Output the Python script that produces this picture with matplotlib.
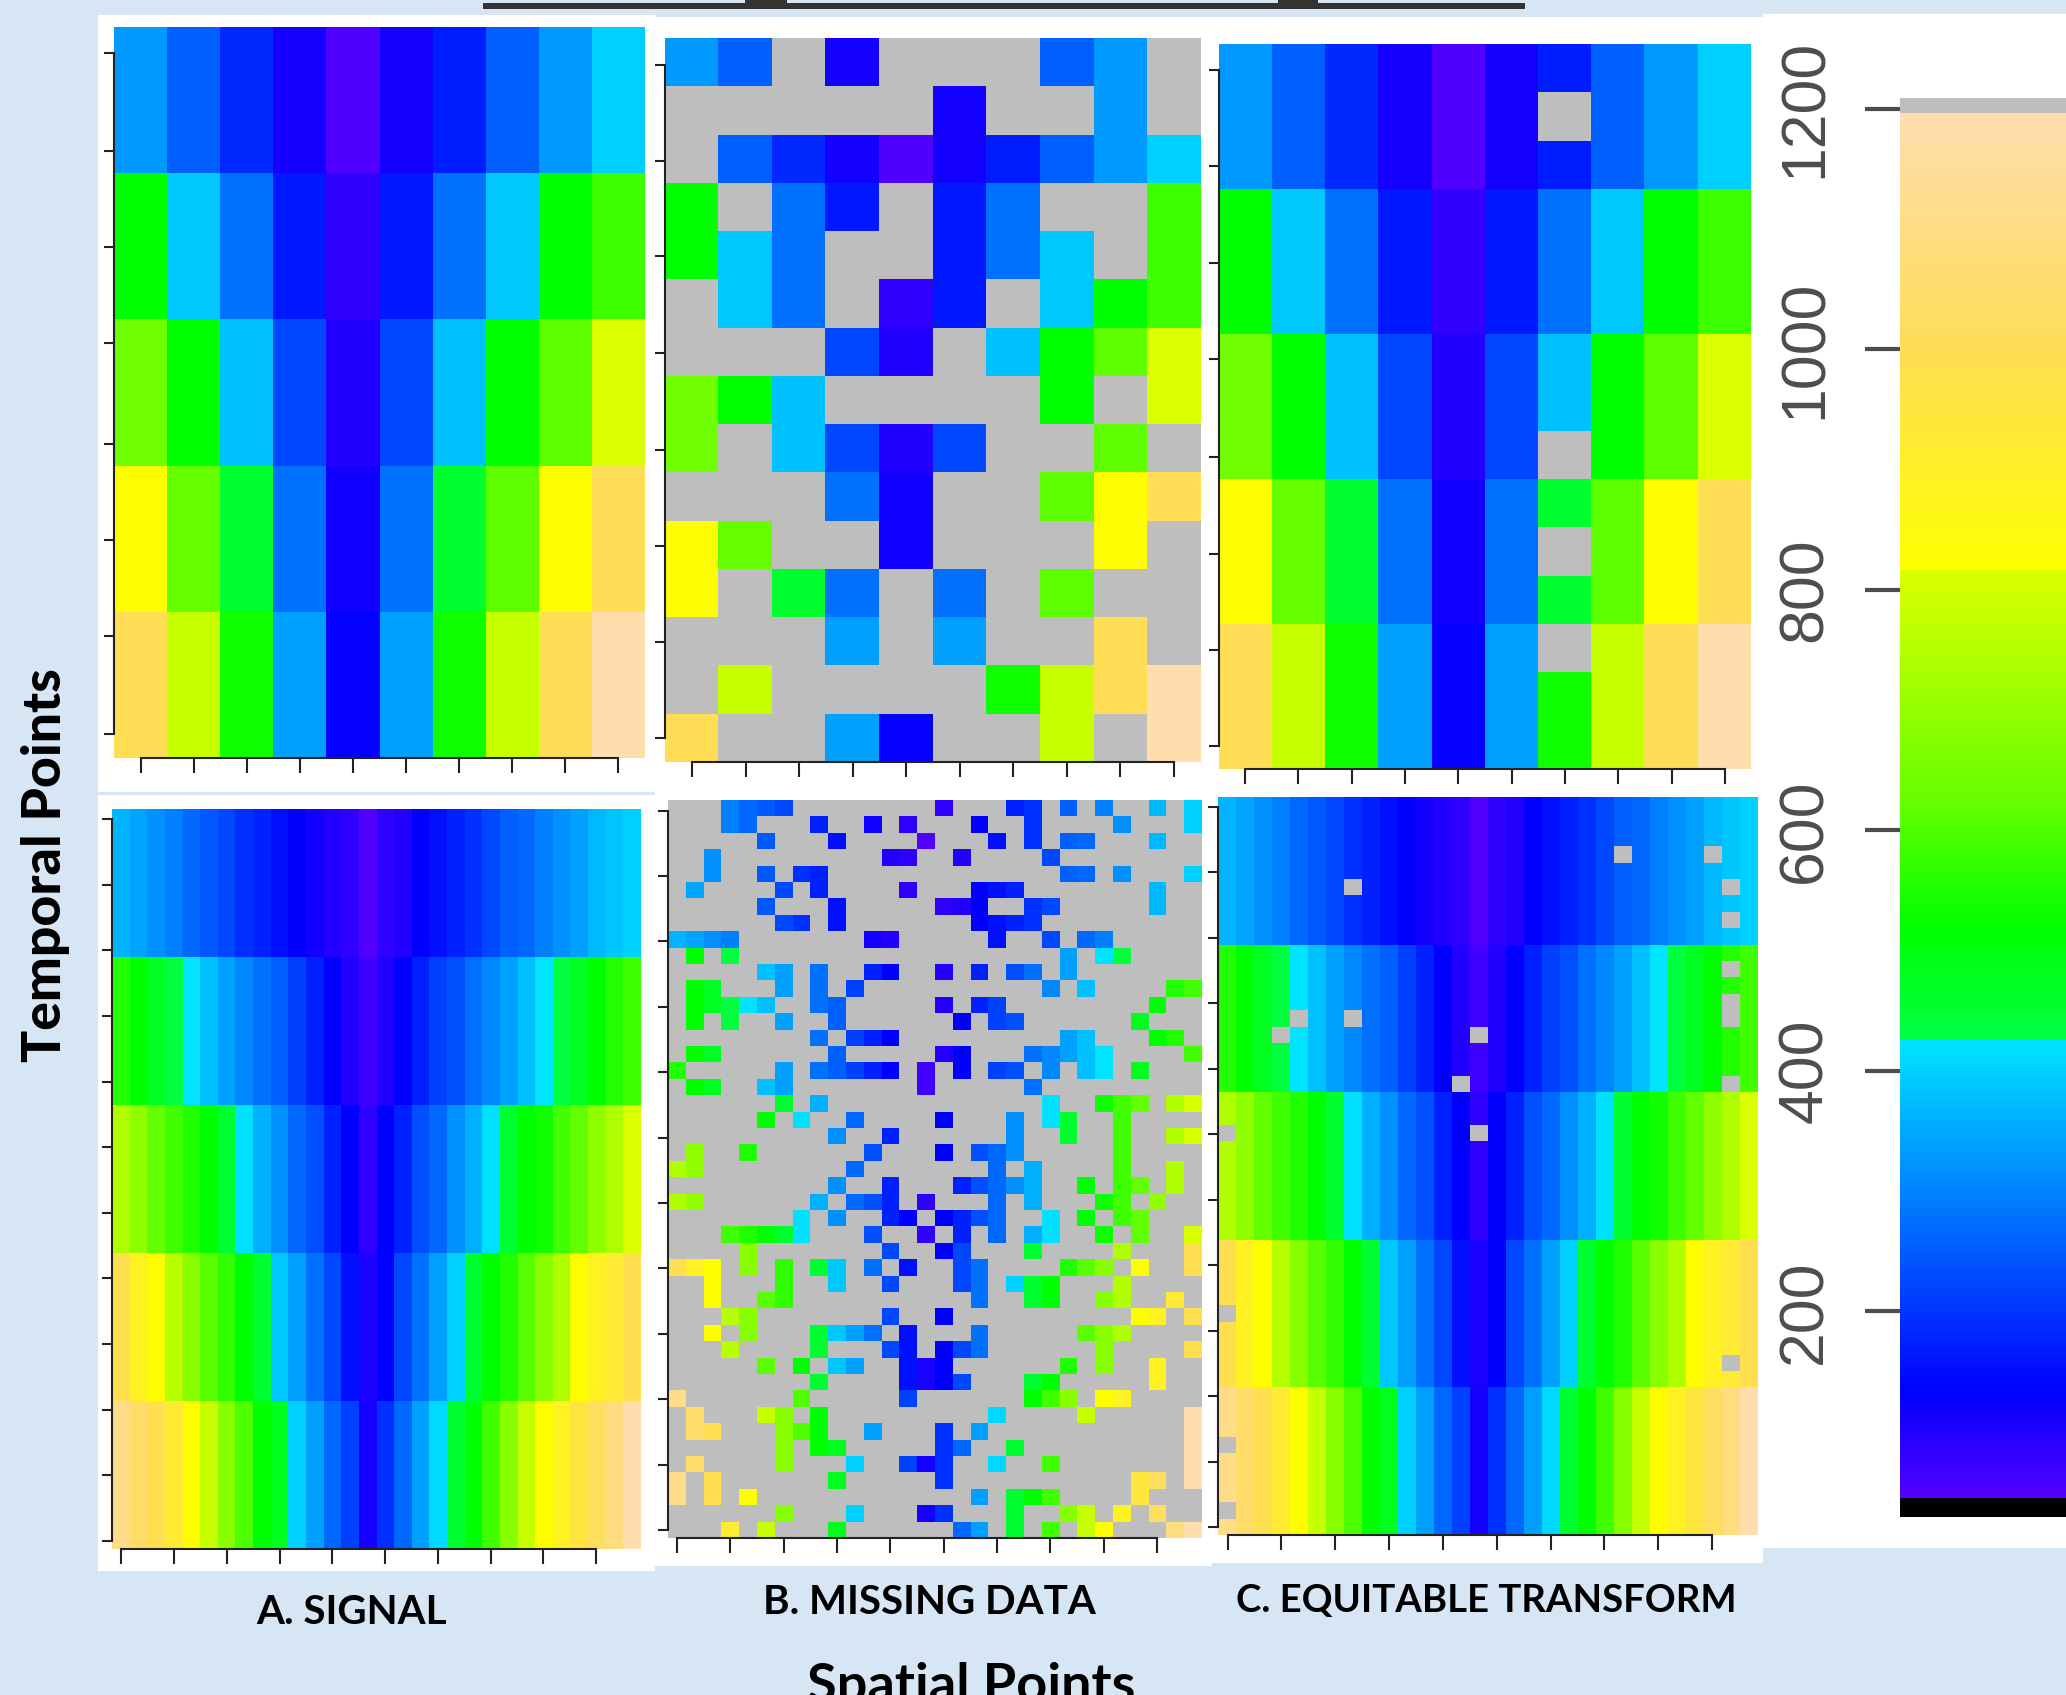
import numpy as np
import matplotlib
matplotlib.use("Agg")
import matplotlib.pyplot as plt
from matplotlib.colors import LinearSegmentedColormap, Normalize
from matplotlib.cm import ScalarMappable
from matplotlib.patches import Rectangle

W, H = 2066, 1695

TOP_SIGNAL = [
    [329, 256, 184, 112, 50, 112, 170, 256, 329, 400],
    [519, 389, 276, 164, 83, 164, 276, 389, 519, 581],
    [640, 519, 380, 225, 98, 225, 380, 519, 615, 810],
    [820, 625, 455, 276, 115, 276, 455, 615, 820, 1000],
    [1000, 780, 535, 338, 130, 338, 535, 780, 1000, 1190],
]
BOTTOM_SIGNAL = [
    [363,343,317,297,266,246,225,194,174,153,133,116,99,83,49,83,99,133,153,174,194,225,256,266,297,317,338,368,385,400],
    [555,519,475,435,425,379,338,307,276,256,215,174,133,99,66,99,133,174,215,235,276,307,338,379,425,435,475,519,555,585],
    [744,693,619,585,552,519,453,420,358,317,266,235,174,133,83,133,174,235,266,317,358,420,453,519,535,585,619,693,744,810],
    [990,890,820,755,680,612,570,519,453,389,338,276,225,153,107,133,225,276,338,400,453,519,552,612,680,744,820,890,930,990],
    [1110,1040,990,930,820,780,680,600,519,480,400,338,266,215,112,194,266,338,410,453,519,585,680,780,820,890,950,1020,1090,1190],
]
# observed (row, column lists) in the 15x10 missing-data panel
TOP_OBSERVED = [
    [0,1,3,7,8],[5,8],[1,2,3,4,5,6,7,8,9],[0,2,3,5,6,9],[0,1,2,5,6,7,9],
    [1,2,4,5,7,8,9],[3,4,6,7,8,9],[0,1,2,7,9],[0,2,3,4,5,8],[3,4,7,8,9],
    [0,1,4,8],[0,2,3,5,7],[3,5,8],[1,6,7,8,9],[0,3,4,7,9],
]
BOTTOM_OBSERVED = [
    [3,4,5,6,15,19,20,22,24,27,29],[3,4,8,11,13,17,20,25,29],[5,9,14,18,20,22,23,27],
    [2,12,13,16,21],[2,5,7,8,22,23,25,29],[1,6,8,13,17,18,19,27],
    [5,9,15,16,17,20,21,27],[6,7,9,17,18,19,20],[0,1,2,3,11,12,18,21,23,24],
    [1,3,22,24,25],[5,6,8,11,12,15,17,19,20,22],[1,2,6,8,10,21,23,28,29],
    [1,2,3,4,5,8,9,15,17,18,27],[1,3,6,9,16,18,19,26],[8,10,11,12,22,23,27,28],
    [1,2,9,15,16,20,21,22,23,24,29],[0,6,8,9,10,11,12,14,16,18,19,21,23,24,26],[1,2,5,6,14,20],
    [6,8,21,24,25,26,28,29],[5,7,10,15,19,21,22,25],[9,12,19,22,25,28,29],
    [1,4,11,15,17,18,19,25],[0,1,10,18,20,25,28],[9,12,16,17,18,19,20,23,25,26,28],
    [0,1,8,10,11,12,14,18,20,24,25,27],[7,9,12,13,15,16,17,18,21,23,25,26],
    [3,4,5,6,7,11,14,16,18,20,21,24,26,29],[4,12,15,16,20,25,29],
    [0,1,2,4,6,8,9,11,13,16,17,22,23,24,26,29],[2,6,9,12,16,17,19,20,21,25],
    [2,5,6,17,20,21,24,25,28],[3,4,12,15,26,27,29],[2,4,8,9,10,11,13,17,23,24,25],
    [3,8,12,13,15,16,17,24,29],[5,7,9,10,13,14,15,22,24,27],[8,13,14,15,16,20,21,27],
    [0,7,13,20,21,22,24,25],[1,5,6,8,18,23,29],[1,2,6,7,8,11,15,17,29],
    [6,8,9,15,16,19,29],[1,6,10,13,14,15,18,21,29],[0,2,9,15,26,27,29],
    [0,2,4,17,19,20,21,26],[6,10,14,15,19,22,23,25,27],[3,5,9,16,17,19,21,23,24,28,29],
]
# missing cells in the transformed panels
TOP_TRANSFORM_MISSING = [(1, 6), (8, 6), (10, 6), (12, 6)]
BOTTOM_TRANSFORM_MISSING = [
    (3,22),(3,27),(5,7),(5,28),(7,28),(10,28),(12,28),(13,28),(13,4),(13,7),
    (14,3),(14,14),(17,13),(17,28),(20,0),(20,14),(31,0),(34,28),(39,0),(43,0),
]
COLORBAR_TICKS = [200, 400, 600, 800, 1000, 1200]
PANEL_LABELS = ["A. SIGNAL", "B. MISSING DATA", "C. EQUITABLE TRANSFORM"]

BG = "#d6e6f4"
GREY = "#bebebe"
VMIN, VMAX = 29, 1209
SEG = [(29, "#000000"), (44, "#000000"), (44, "#5500ff"), (133, "#0000ff"), (426, "#00e5ff"),
       (426, "#00ff44"), (519, "#00ff00"), (625, "#66ff00"), (817, "#ddff00"),
       (817, "#ffff00"), (1000, "#ffdd55"), (1197, "#ffddb0"), (1197, GREY), (1209, GREY)]
cmap = LinearSegmentedColormap.from_list(
    "signal", [((v - VMIN) / (VMAX - VMIN), c) for v, c in SEG], N=2048)
cmap.set_bad(GREY)
norm = Normalize(VMIN, VMAX)

plt.rcParams["font.family"] = ["Lato", "DejaVu Sans"]
fig = plt.figure(figsize=(W / 100, H / 100), dpi=100, facecolor=BG)


def px_axes(L, R, T, B, **kw):
    return fig.add_axes([L / W, 1 - B / H, (R - L) / W, (B - T) / H], **kw)


# page layer for white backings and labels, in pixel coordinates
page = fig.add_axes([0, 0, 1, 1], zorder=0)
page.set_xlim(0, W)
page.set_ylim(H, 0)
page.axis("off")
for x0, x1, y0, y1 in [(98, 655, 15, 1571), (655, 1212, 17, 1566), (1212, 1763, 17, 1563), (1763, 2066, 14, 1548)]:
    page.add_patch(Rectangle((x0, y0), x1 - x0, y1 - y0, fc="white", ec="none"))
page.add_patch(Rectangle((98, 792), 557, 3, fc=BG, ec="none"))
page.add_patch(Rectangle((483, 3), 1042, 6, fc="#333333", ec="none"))
for x0, x1 in [(745, 787), (1278, 1318)]:
    page.add_patch(Rectangle((x0, 0), x1 - x0, 3, fc="#333333", ec="none"))


def panel(values, L, R, T, B, yt, xt):
    data = np.asarray(values, dtype=float)
    ax = px_axes(L, R, T, B, zorder=2)
    ax.pcolormesh(np.arange(data.shape[1] + 1), np.arange(data.shape[0] + 1), data,
                  cmap=cmap, norm=norm, antialiased=False, linewidth=0, rasterized=True)
    ax.set_xlim(0, data.shape[1])
    ax.set_ylim(data.shape[0], 0)
    yticks = [(p - T) / (B - T) * data.shape[0] for p in yt]
    xticks = [(p - L) / (R - L) * data.shape[1] for p in xt]
    ax.set_yticks(yticks, [""] * len(yticks))
    ax.set_xticks(xticks, [""] * len(xticks))
    ax.tick_params(axis="y", length=7.5, width=1.5, color="#222222", direction="out")
    ax.tick_params(axis="x", length=10.5, width=1.5, color="#222222", direction="out")
    for s in ("top", "right"):
        ax.spines[s].set_visible(False)
    ax.spines["left"].set_bounds(yticks[0], yticks[-1])
    ax.spines["bottom"].set_bounds(xticks[0], xticks[-1])
    for s in ("left", "bottom"):
        ax.spines[s].set_linewidth(1.5)
        ax.spines[s].set_color("#222222")
    return ax


def steps(a, b, n):
    return list(np.linspace(a, b, n))


top_rows = np.repeat(np.array(TOP_SIGNAL, float), 3, axis=0)
bottom_rows = np.repeat(np.array(BOTTOM_SIGNAL, float), 9, axis=0)

top_missing = np.full(top_rows.shape, np.nan)
for r, cols in enumerate(TOP_OBSERVED):
    top_missing[r, cols] = top_rows[r, cols]
bottom_missing = np.full(bottom_rows.shape, np.nan)
for r, cols in enumerate(BOTTOM_OBSERVED):
    bottom_missing[r, cols] = bottom_rows[r, cols]
top_trans = top_rows.copy()
for r, c in TOP_TRANSFORM_MISSING:
    top_trans[r, c] = np.nan
bottom_trans = bottom_rows.copy()
for r, c in BOTTOM_TRANSFORM_MISSING:
    bottom_trans[r, c] = np.nan

panel(TOP_SIGNAL, 114, 645, 27, 758, [53, 151, 247, 343, 444, 540, 636, 734], steps(141, 618, 10))
panel(top_missing, 664.5, 1201, 38, 762, [65, 161, 256, 352.5, 450, 546, 642, 737.5], steps(692, 1174, 10))
panel(top_trans, 1218.5, 1751, 44, 769, [70, 166, 263, 359, 457, 554, 650, 746], steps(1245, 1725, 10))
panel(BOTTOM_SIGNAL, 112, 641, 809, 1549, steps(819, 1541, 12), steps(121.4, 596, 10))
panel(bottom_missing, 668, 1202, 800, 1538, steps(810.7, 1530, 12), steps(677, 1157, 10))
panel(bottom_trans, 1218, 1757.5, 797, 1535, steps(807, 1527, 12), steps(1227.6, 1712, 10))

# colour scale
cax = px_axes(1900, 2070, 98, 1517, zorder=2)
cb = fig.colorbar(ScalarMappable(norm=norm, cmap=cmap), cax=cax, ticks=COLORBAR_TICKS)
cb.outline.set_visible(False)
cb.ax.yaxis.set_ticks_position("left")
cb.ax.tick_params(axis="y", length=25, width=3, color="#4d4d4d", pad=22,
                  labelsize=45, labelcolor="#4d4d4d", labelrotation=90)
for t in cb.ax.get_yticklabels():
    t.set_family(["Liberation Sans"])
    t.set_va("center")

# labels
page.text(46, 865, "Temporal Points", rotation=90, ha="center", va="center", fontsize=38.5, fontweight="black", color="black")
for x, y, s, fs in zip([352, 929, 1486], [1613, 1602, 1601], PANEL_LABELS, [29, 29, 27.5]):
    page.text(x, y, s, ha="center", va="center", fontsize=fs, fontweight="bold", color="black")
page.text(971, 1702, "Spatial Points", ha="center", va="baseline", fontsize=39, fontweight="bold", color="black")

fig.savefig("out.png", dpi=100, facecolor=BG)
